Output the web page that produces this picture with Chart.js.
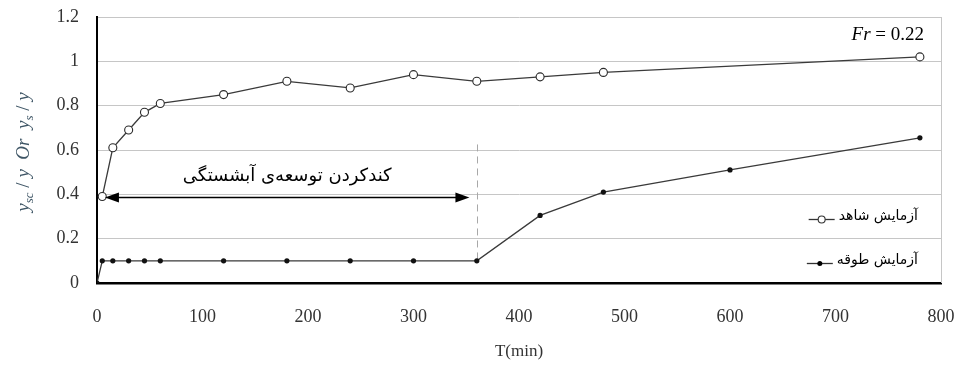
<!DOCTYPE html>
<html>
<head>
<meta charset="utf-8">
<script src="https://cdn.jsdelivr.net/npm/chart.js@4.4.1/dist/chart.umd.min.js"></script>
<style>
  html, body { margin: 0; padding: 0; background: #ffffff; }
  #wrap { width: 958px; height: 365px; position: relative; }
</style>
</head>
<body>
<div id="wrap"><canvas id="c" width="958" height="365"></canvas></div>
<script>
// ---- data ----
const timeControl = [5, 15, 30, 45, 60, 120, 180, 240, 300, 360, 420, 480, 780];
const valControl  = [0.39, 0.61, 0.69, 0.77, 0.81, 0.85, 0.91, 0.88, 0.94, 0.91, 0.93, 0.95, 1.02];
const timeCollar  = [0, 5, 15, 30, 45, 60, 120, 180, 240, 300, 360, 420, 480, 600, 780];
const valCollar   = [0, 0.1, 0.1, 0.1, 0.1, 0.1, 0.1, 0.1, 0.1, 0.1, 0.1, 0.305, 0.41, 0.51, 0.655];
const xTickValues = [0, 100, 200, 300, 400, 500, 600, 700, 800];
const yTickValues = [0, 0.2, 0.4, 0.6, 0.8, 1.0, 1.2];
const seriesNames = ['آزمایش شاهد', 'آزمایش طوقه'];
const annotationText = 'کندکردن توسعه‌ی آبشستگی';
const arrowRange = [7.5, 353];   // time span of the double arrow
const arrowLevel = 0.39;
const dashedAt = 360;
const dashedRange = [0.1, 0.625];
const xTitle = 'T(min)';

const toPoints = (xs, ys) => xs.map((x, i) => ({ x: x, y: ys[i] }));

const serif = '"Liberation Serif", "Times New Roman", serif';
const arabic = '"DejaVu Sans", sans-serif';

const decorations = {
  id: 'decorations',
  beforeDatasetsDraw(chart) {
    const ctx = chart.ctx, xs = chart.scales.x, ys = chart.scales.y, a = chart.chartArea;
    ctx.save();
    // right border
    ctx.strokeStyle = '#c6c6c6';
    ctx.lineWidth = 1;
    ctx.beginPath();
    ctx.moveTo(Math.round(a.right) + 0.5, a.top);
    ctx.lineTo(Math.round(a.right) + 0.5, a.bottom);
    ctx.stroke();
    // dashed vertical line
    const dx = Math.round(xs.getPixelForValue(dashedAt)) + 0.5;
    ctx.strokeStyle = '#a8a8a8';
    ctx.setLineDash([7, 5]);
    ctx.beginPath();
    ctx.moveTo(dx, ys.getPixelForValue(dashedRange[1]));
    ctx.lineTo(dx, ys.getPixelForValue(dashedRange[0]));
    ctx.stroke();
    ctx.restore();
  },
  afterDraw(chart) {
    const ctx = chart.ctx, xs = chart.scales.x, ys = chart.scales.y, a = chart.chartArea;
    ctx.save();
    // double arrow
    const x1 = xs.getPixelForValue(arrowRange[0]);
    const x2 = xs.getPixelForValue(arrowRange[1]);
    const ay = Math.round(ys.getPixelForValue(arrowLevel)) + 0.5;
    const hl = 14, hw = 5;
    ctx.strokeStyle = '#000';
    ctx.fillStyle = '#000';
    ctx.lineWidth = 1.6;
    ctx.beginPath();
    ctx.moveTo(x1 + hl - 2, ay);
    ctx.lineTo(x2 - hl + 2, ay);
    ctx.stroke();
    ctx.beginPath();
    ctx.moveTo(x1, ay); ctx.lineTo(x1 + hl, ay - hw); ctx.lineTo(x1 + hl, ay + hw); ctx.closePath();
    ctx.fill();
    ctx.beginPath();
    ctx.moveTo(x2, ay); ctx.lineTo(x2 - hl, ay - hw); ctx.lineTo(x2 - hl, ay + hw); ctx.closePath();
    ctx.fill();

    // annotation text
    ctx.fillStyle = '#000';
    ctx.font = '18px ' + arabic;
    ctx.textAlign = 'center';
    ctx.textBaseline = 'middle';
    ctx.direction = 'rtl';
    ctx.fillText(annotationText, (x1 + x2) / 2, ay - 21);

    // Fr = 0.22
    ctx.direction = 'ltr';
    ctx.textBaseline = 'middle';
    ctx.textAlign = 'left';
    const frY = 35;
    ctx.font = '19px ' + serif;
    const rest = ' = 0.22';
    const wRest = ctx.measureText(rest).width;
    ctx.font = 'italic 19px ' + serif;
    const wFr = ctx.measureText('Fr').width;
    const frRight = 924;
    const frLeft = frRight - wRest - wFr;
    ctx.fillText('Fr', frLeft, frY);
    ctx.font = '19px ' + serif;
    ctx.fillText(rest, frLeft + wFr, frY);

    // legend
    const legendRows = [
      { name: seriesNames[0], y: 216, open: true },
      { name: seriesNames[1], y: 260, open: false }
    ];
    const textRight = 918;
    legendRows.forEach(r => {
      ctx.font = '14px ' + arabic;
      ctx.direction = 'rtl';
      ctx.textAlign = 'right';
      ctx.textBaseline = 'middle';
      ctx.fillStyle = '#000';
      ctx.fillText(r.name, textRight, r.y);
      const w = ctx.measureText(r.name).width;
      const lx2 = textRight - w - 4;
      const lx1 = lx2 - 26;
      ctx.strokeStyle = '#333';
      ctx.lineWidth = 1.3;
      ctx.beginPath();
      ctx.moveTo(lx1, r.y + 3.5);
      ctx.lineTo(lx2, r.y + 3.5);
      ctx.stroke();
      const mx = (lx1 + lx2) / 2;
      ctx.beginPath();
      if (r.open) {
        ctx.fillStyle = '#fff';
        ctx.arc(mx, r.y + 3.5, 3.5, 0, Math.PI * 2);
        ctx.fill();
        ctx.lineWidth = 1.1;
        ctx.stroke();
      } else {
        ctx.fillStyle = '#000';
        ctx.arc(mx, r.y + 3.5, 2.5, 0, Math.PI * 2);
        ctx.fill();
      }
    });

    // y axis title (rotated, with subscripts)
    ctx.direction = 'ltr';
    const parts = [
      { t: 'y', sub: false, it: true },
      { t: 'sc', sub: true, it: true },
      { t: ' / ', sub: false, it: false },
      { t: 'y', sub: false, it: true },
      { t: '  Or  ', sub: false, it: true },
      { t: 'y', sub: false, it: true },
      { t: 's', sub: true, it: true },
      { t: ' / ', sub: false, it: false },
      { t: 'y', sub: false, it: true }
    ];
    const mainSize = 19, subSize = 13;
    const fontFor = p => (p.it ? 'italic ' : '') + (p.sub ? subSize : mainSize) + 'px ' + serif;
    let total = 0;
    parts.forEach(p => { ctx.font = fontFor(p); p.w = ctx.measureText(p.t).width; total += p.w; });
    ctx.translate(23, 152);
    ctx.rotate(-Math.PI / 2);
    ctx.fillStyle = '#3f5666';
    ctx.textAlign = 'left';
    ctx.textBaseline = 'alphabetic';
    let cx = -total / 2;
    parts.forEach(p => {
      ctx.font = fontFor(p);
      ctx.fillText(p.t, cx, p.sub ? 10 : 6);
      cx += p.w;
    });
    ctx.restore();
  }
};

new Chart(document.getElementById('c'), {
  type: 'line',
  data: {
    datasets: [
      {
        label: seriesNames[0],
        data: toPoints(timeControl, valControl),
        borderColor: '#3a3a3a',
        borderWidth: 1.3,
        pointStyle: 'circle',
        pointRadius: 4,
        pointBorderWidth: 1.1,
        pointBorderColor: '#2a2a2a',
        pointBackgroundColor: '#ffffff',
        tension: 0
      },
      {
        label: seriesNames[1],
        data: toPoints(timeCollar, valCollar),
        borderColor: '#3a3a3a',
        borderWidth: 1.3,
        pointStyle: 'circle',
        pointRadius: 2.6,
        pointBorderWidth: 0,
        pointBackgroundColor: '#111111',
        tension: 0
      }
    ]
  },
  options: {
    responsive: false,
    animation: false,
    devicePixelRatio: 1,
    layout: { padding: { top: 17, right: 17, left: 0, bottom: 0 } },
    plugins: { legend: { display: false }, tooltip: { enabled: false } },
    scales: {
      x: {
        type: 'linear',
        min: 0, max: 800,
        afterFit(s) { s.height = 82; s.paddingLeft = 0; s.paddingRight = 0; },
        afterBuildTicks(s) { s.ticks = xTickValues.map(v => ({ value: v })); },
        grid: { display: false, drawTicks: false },
        border: { display: true, color: '#000', width: 2.5 },
        ticks: {
          padding: 23,
          color: '#333',
          font: { family: serif, size: 18 },
          maxRotation: 0,
          callback: v => String(v)
        },
        title: {
          display: true,
          text: xTitle,
          color: '#333',
          font: { family: serif, size: 17 },
          padding: { top: 0, bottom: 3 }
        }
      },
      y: {
        min: 0, max: 1.2,
        afterFit(s) { s.width = 97; s.paddingTop = 0; s.paddingBottom = 0; },
        afterBuildTicks(s) { s.ticks = yTickValues.map(v => ({ value: v })); },
        grid: { color: '#c6c6c6', lineWidth: 1, drawTicks: false },
        border: { display: true, color: '#000', width: 2 },
        ticks: {
          padding: 18,
          color: '#333',
          font: { family: serif, size: 18 },
          callback: v => String(Number(v.toFixed(1)))
        }
      }
    }
  },
  plugins: [decorations]
});
</script>
</body>
</html>
